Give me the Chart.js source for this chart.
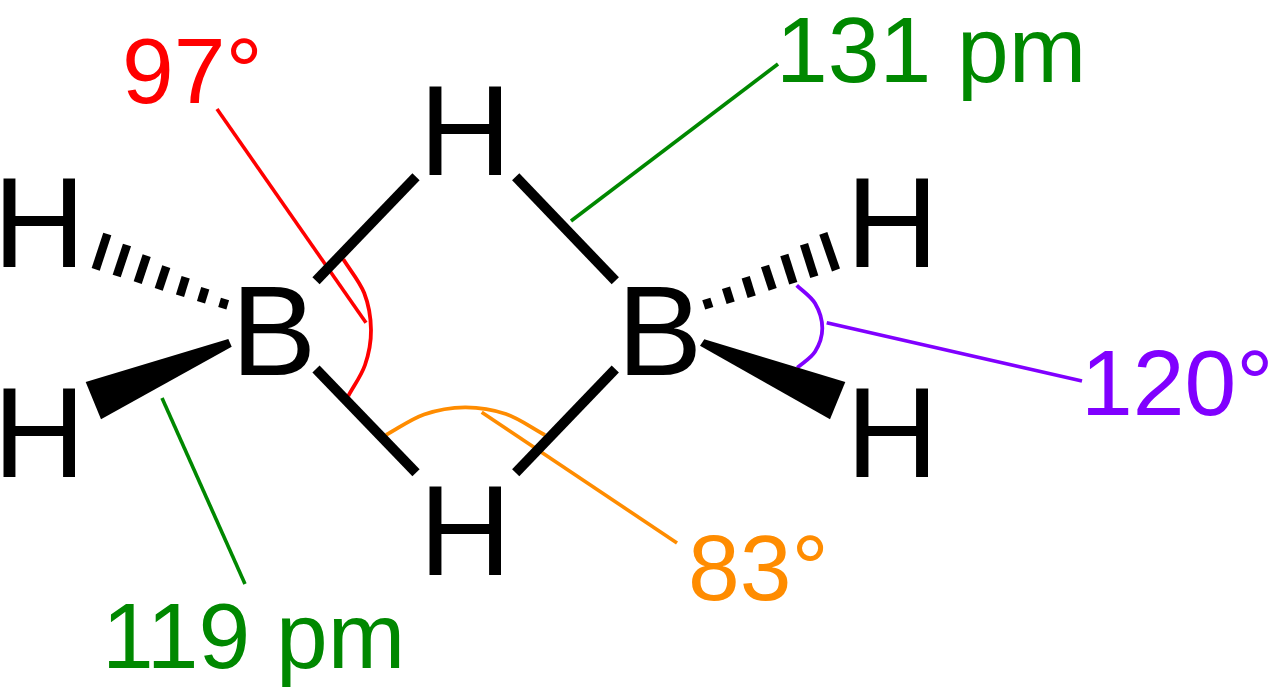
<!DOCTYPE html>
<html>
<head>
<meta charset="utf-8">
<title>Diborane</title>
<script src="https://cdn.jsdelivr.net/npm/chart.js@4/dist/chart.umd.min.js"></script>
<style>
    html, body { margin: 0; padding: 0; background: #fff; overflow: hidden; }
</style>
</head>
<body>
<canvas id="myChart" width="1280" height="700"></canvas>
<script>
    // values are in the picture's own units, x 0-1280 and y 0-700
    var bonds = [
        [[316, 280.7], [416, 176.7]],
        [[316, 369], [416, 472.7]],
        [[515.7, 176.7], [615.3, 280.7]],
        [[515.7, 472.7], [615.3, 369]]
    ];
    var leftHash = [
        [[107.3, 234], [95.7, 269.3]],
        [[127, 245], [116.7, 276]],
        [[146.7, 255.7], [137.7, 282.7]],
        [[166.3, 266.7], [158.7, 289.3]],
        [[185.7, 277.3], [180, 295.7]],
        [[205.3, 288.3], [201, 302.3]],
        [[225, 299], [222.3, 308.3]]
    ];
    var rightHash = [
        [[823.3, 233.3], [836, 270]],
        [[804, 244.3], [814.3, 276.7]],
        [[784.3, 255], [793.3, 283.3]],
        [[765, 266], [772.7, 289.3]],
        [[745.7, 277.3], [751.7, 296.7]],
        [[726, 287.7], [730.7, 302.7]],
        [[706.3, 299], [709.3, 308.3]]
    ];
    var leftWedge = [[228.3, 339], [231.7, 346.7], [101, 419.3], [85.7, 382], [228.3, 339]];
    var rightWedge = [[704.3, 339.3], [700, 345.7], [830, 419.3], [845.3, 382], [704.3, 339.3]];

    var redLine = [[217, 109], [366, 322.7]];
    var redArc = [[343.3, 259.3], [364.2, 293], [371, 330], [365, 365], [348.3, 396]];
    var orangeLine = [[481.7, 412.3], [677, 543]];
    var orangeArc = [[386, 435], [424, 414.5], [465, 407.3], [506, 414], [545, 435]];
    var purpleLine = [[826.7, 322.7], [1082, 381]];
    var purpleArc = [[796.7, 285.3], [815, 303.3], [822.3, 328.3], [815, 351.7], [797.3, 367.7]];
    var greenLineTop = [[571, 221], [778, 64]];
    var greenLineBottom = [[162, 398], [245, 584]];

    var atomLabels = ['H', 'H', 'H', 'H', 'H', 'H', 'B', 'B'];
    var atomX = [-7, -7, 419, 419, 846, 846, 231, 617];
    var atomY = [267, 477, 175, 575, 267, 477, 375, 375];

    var noteLabels = ['97°', '131 pm', '120°', '83°', '119 pm'];
    var noteX = [122, 776, 1081, 688, 102];
    var noteY = [103, 82, 415, 600, 668];

    var RED = '#ff0000', GREEN = '#008800', ORANGE = '#ff8c00', PURPLE = '#8000ff';
    var noteColors = [RED, GREEN, PURPLE, ORANGE, GREEN];

    function toPoints(list) {
        return list.map(function (p) { return { x: p[0], y: p[1] }; });
    }

    function lineSet(list, color, width, tension) {
        return {
            data: toPoints(list),
            showLine: true,
            borderColor: color,
            borderWidth: width,
            pointRadius: 0,
            tension: tension || 0,
            fill: false
        };
    }

    function wedgeSet(list) {
        return {
            data: toPoints(list),
            showLine: true,
            borderColor: '#000',
            borderWidth: 0,
            backgroundColor: '#000',
            pointRadius: 0,
            fill: 'shape'
        };
    }

    // coloured lines go first so the black bonds sit on top of them
    var datasets = [
        lineSet(redLine, RED, 3.6),
        lineSet(redArc, RED, 3.8, 0.33),
        lineSet(orangeLine, ORANGE, 3.6),
        lineSet(orangeArc, ORANGE, 3.8, 0.33),
        lineSet(purpleLine, PURPLE, 3.6),
        lineSet(purpleArc, PURPLE, 3.8, 0.33),
        lineSet(greenLineTop, GREEN, 3.6),
        lineSet(greenLineBottom, GREEN, 3.6)
    ];
    bonds.forEach(function (b) { datasets.push(lineSet(b, '#000', 10)); });
    leftHash.concat(rightHash).forEach(function (h) { datasets.push(lineSet(h, '#000', 8.5)); });
    datasets.push(wedgeSet(leftWedge));
    datasets.push(wedgeSet(rightWedge));
    // chart.js paints the first dataset last
    datasets.reverse();

    var textPlugin = {
        id: 'moleculeText',
        afterDatasetsDraw: function (chart) {
            var ctx = chart.ctx;
            var x = chart.scales.x;
            var y = chart.scales.y;
            ctx.save();
            ctx.textAlign = 'left';
            ctx.textBaseline = 'alphabetic';
            ctx.fillStyle = '#000';
            ctx.font = '128px "Liberation Sans"';
            atomLabels.forEach(function (t, i) {
                ctx.fillText(t, x.getPixelForValue(atomX[i]), y.getPixelForValue(atomY[i]));
            });
            ctx.font = '93px "Liberation Sans"';
            noteLabels.forEach(function (t, i) {
                ctx.fillStyle = noteColors[i];
                ctx.fillText(t, x.getPixelForValue(noteX[i]), y.getPixelForValue(noteY[i]));
            });
            ctx.restore();
        }
    };

    var myChart = new Chart(document.getElementById('myChart').getContext('2d'), {
        type: 'scatter',
        data: { datasets: datasets },
        plugins: [textPlugin],
        options: {
            responsive: false,
            animation: false,
            layout: { padding: 0 },
            plugins: { legend: { display: false }, tooltip: { enabled: false } },
            scales: {
                x: { type: 'linear', min: 0, max: 1280, display: false },
                y: { type: 'linear', min: 0, max: 700, reverse: true, display: false }
            }
        }
    });
</script>
</body>
</html>
